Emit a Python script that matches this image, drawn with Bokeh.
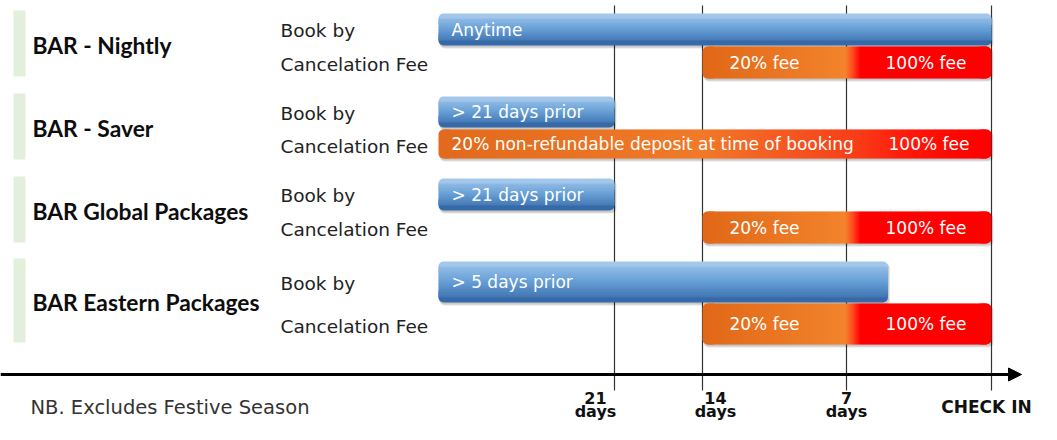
import numpy as np
from bokeh.plotting import figure
from bokeh.models import Range1d, Arrow, NormalHead
from bokeh.core.properties import value
from bokeh.embed import file_html
from bokeh.resources import INLINE

# ---------------- data ----------------
plans = ["BAR - Nightly", "BAR - Saver", "BAR Global Packages", "BAR Eastern Packages"]
row_labels = ["Book by", "Cancelation Fee"]
book_until = [0, 21, 21, 5]            # booking possible until N days before check-in
book_labels = ["Anytime", "> 21 days prior", "> 21 days prior", "> 5 days prior"]
fee_start = [14, 28, 14, 14]           # 28 = from time of booking (start of timeline)
fee_full = [7, 7, 7, 7]                # 100% fee from N days before check-in
fee_labels = ["20% fee", "20% non-refundable deposit at time of booking", "20% fee", "20% fee"]
full_labels = ["100% fee", "100% fee", "100% fee", "100% fee"]
tick_days = [21, 14, 7, 0]
tick_numbers = ["21", "14", "7", "CHECK IN"]
tick_units = ["days", "days", "days", ""]
note = "NB. Excludes Festive Season"

# ---------------- layout (schematic, reference pixels) ----------------
anchor_days = [28, 21, 14, 7, 0]
anchor_x = [438, 614, 702, 846, 991]


def dx(d):
    return float(np.interp(-float(d), -np.array(anchor_days, float), anchor_x))


row_top = [10, 93, 176, 258]
row_bot = [76, 159, 242, 342]
book_y = [(13, 45), (96, 127), (178, 210), (261, 302)]
fee_y = [(46, 78), (129, 158), (211, 243), (303, 344)]
label_offset_x = [-19, 13, 0, -5]

W, H = 1041, 424
p = figure(width=W, height=H, x_range=Range1d(0, W), y_range=Range1d(H, 0),
           output_backend="svg", toolbar_location=None, min_border=0,
           x_axis_type=None, y_axis_type=None)
p.grid.visible = False
p.outline_line_color = None
p.background_fill_color = "white"
p.border_fill_color = "white"


def hex2rgb(h):
    h = h.lstrip("#")
    return [int(h[i:i + 2], 16) for i in (0, 2, 4)]


def rgb2hex(c):
    return "#%02x%02x%02x" % tuple(int(round(max(0, min(255, v)))) for v in c)


def make_col(stops):
    pos = [s[0] for s in stops]
    cols = [hex2rgb(s[1]) for s in stops]

    def col(x):
        return rgb2hex([np.interp(x, pos, [c[i] for c in cols]) for i in range(3)])
    return col


def shadow(x0, x1, y0, y1, r=5):
    p.quad(left=[x0 + 1], right=[x1 + 2], top=[y0 + 2], bottom=[y1 + 3],
           fill_color="black", fill_alpha=0.10, line_color=None, border_radius=r)
    p.quad(left=[x0 + 1], right=[x1 + 1], top=[y0 + 1], bottom=[y1 + 2],
           fill_color="black", fill_alpha=0.12, line_color=None, border_radius=r)


def hgrad(x0, x1, y0, y1, stops, r=5, step=2.0):
    col = make_col(stops)
    p.quad(left=[x0], right=[x0 + 3 * r], top=[y0], bottom=[y1], fill_color=col(x0),
           line_color=None, border_radius=r)
    p.quad(left=[x1 - 3 * r], right=[x1], top=[y0], bottom=[y1], fill_color=col(x1),
           line_color=None, border_radius=r)
    xs = np.arange(x0 + r, x1 - r, step)
    rights = np.minimum(xs + step + 0.7, x1 - r)
    p.quad(left=xs, right=rights, top=y0, bottom=y1,
           fill_color=[col(x + step / 2) for x in xs], line_color=None)


def vgrad(x0, x1, y0, y1, stops_t, r=5, step=1.5):
    stops = [(y0 + t * (y1 - y0), c) for t, c in stops_t]
    col = make_col(stops)
    p.quad(left=[x0], right=[x1], top=[y0], bottom=[y0 + 3 * r], fill_color=col(y0),
           line_color=None, border_radius=r)
    p.quad(left=[x0], right=[x1], top=[y1 - 3 * r], bottom=[y1], fill_color=col(y1),
           line_color=None, border_radius=r)
    ys = np.arange(y0 + r, y1 - r, step)
    bots = np.minimum(ys + step + 0.6, y1 - r)
    p.quad(left=x0, right=x1, top=ys, bottom=bots,
           fill_color=[col(y + step / 2) for y in ys], line_color=None)


# vertical day lines
p.segment(x0=[dx(d) for d in tick_days], x1=[dx(d) for d in tick_days],
          y0=5, y1=390, line_color="#333333", line_width=1.2)

# time axis with arrow
p.add_layout(Arrow(end=NormalHead(size=13, fill_color="black", line_color="black"),
                   x_start=0, y_start=374, x_end=1021, y_end=374,
                   line_width=3, line_color="black"))

blue_stops = [(0.0, "#a3c7ea"), (0.45, "#6aa2d8"), (1.0, "#3669a8")]

for i in range(len(plans)):
    # green marker
    p.quad(left=[13], right=[25], top=[row_top[i]], bottom=[row_bot[i]],
           fill_color="#e2efda", line_color=None)
    # book-by bar
    bx0, bx1 = dx(28), dx(book_until[i])
    by0, by1 = book_y[i]
    shadow(bx0, bx1, by0, by1)
    vgrad(bx0, bx1, by0, by1, blue_stops)
    # cancellation fee bar
    fx0, fx1 = dx(fee_start[i]), dx(0)
    fy0, fy1 = fee_y[i]
    xf = dx(fee_full[i])
    if fee_start[i] >= 28:
        stops = [(fx0, "#e26a1c"), (700, "#f07a28"), (770, "#f45e22"), (855, "#f83e18"),
                 (905, "#ff1a0a"), (960, "#ff0500"), (fx1, "#ff0000")]
    else:
        stops = [(fx0, "#e06818"), (xf - 1, "#f3832c"), (xf + 6, "#ff4a20"),
                 (xf + 14, "#ff0000"), (fx1, "#ff0000")]
    shadow(fx0, fx1, fy0, fy1)
    hgrad(fx0, fx1, fy0, fy1, stops)

# texts on bars
bar_font = value("DejaVu Sans")
p.text(x=[dx(28) + 13] * 4, y=[(a + b) / 2 for a, b in book_y], text=book_labels,
       text_font=bar_font, text_font_size="17px", text_color="white",
       text_baseline="middle", text_align="left")

fee_x, fee_al = [], []
for i in range(4):
    if fee_start[i] >= 28:
        fee_x.append(dx(fee_start[i]) + 13)
        fee_al.append("left")
    else:
        fee_x.append((dx(fee_start[i]) + dx(fee_full[i])) / 2 - 10)
        fee_al.append("center")
fy_mid = [(a + b) / 2 for a, b in fee_y]
for i in range(4):
    p.text(x=[fee_x[i]], y=[fy_mid[i]], text=[fee_labels[i]], text_font=bar_font,
           text_font_size="17px", text_color="white", text_baseline="middle",
           text_align=fee_al[i])
full_x = [(dx(fee_full[i]) + dx(0)) / 2 + (10 if fee_start[i] >= 28 else 7) for i in range(4)]
p.text(x=full_x, y=fy_mid, text=full_labels, text_font=bar_font, text_font_size="17px",
       text_color="white", text_baseline="middle", text_align="center")

# plan titles
p.text(x=[32] * 4, y=[(a + b) / 2 + 1 for a, b in zip(row_top, row_bot)], text=plans,
       text_font=value("Lato"), text_font_style="bold", text_font_size="22.8px",
       text_color="#0d0d0d", text_baseline="middle", text_align="left")

# row labels
lab_x, lab_y, lab_t = [], [], []
for i in range(4):
    lab_x += [280, 280]
    lab_y += [(book_y[i][0] + book_y[i][1]) / 2 + 1, (fee_y[i][0] + fee_y[i][1]) / 2 + 2]
    lab_t += row_labels
p.text(x=lab_x, y=lab_y, text=lab_t, text_font=value("DejaVu Sans"), text_font_size="18.5px",
       text_color="#222222", text_baseline="middle", text_align="left")

# tick labels
tx = [dx(d) + o for d, o in zip(tick_days, label_offset_x)]
p.text(x=tx[:3], y=[397] * 3, text=tick_numbers[:3], text_font=value("DejaVu Sans"),
       text_font_style="bold", text_font_size="16px", text_color="#111111",
       text_baseline="middle", text_align="center")
p.text(x=tx[:3], y=[411] * 3, text=tick_units[:3], text_font=value("DejaVu Sans"),
       text_font_style="bold", text_font_size="16px", text_color="#111111",
       text_baseline="middle", text_align="center")
p.text(x=[tx[3]], y=[406], text=[tick_numbers[3]], text_font=value("DejaVu Sans"),
       text_font_style="bold", text_font_size="17px", text_color="#111111",
       text_baseline="middle", text_align="center")

# note
p.text(x=[30], y=[407], text=[note], text_font=value("DejaVu Sans"), text_font_size="19.5px",
       text_color="#333333", text_baseline="middle", text_align="left")

open("out.html", "w").write(file_html(p, INLINE))
